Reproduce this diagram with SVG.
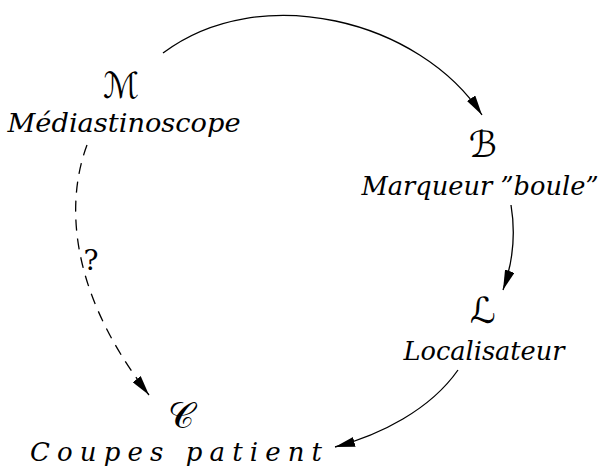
<svg xmlns="http://www.w3.org/2000/svg" width="604" height="473" viewBox="0 0 604 473">
<style>
.lbl{font-family:"DejaVu Serif","Liberation Serif",serif;font-style:italic;font-size:26px;fill:#000;text-anchor:middle}
.sym{font-family:"DejaVu Sans","DejaVu Serif",serif;font-size:36px;fill:#000;text-anchor:middle}
.q{font-family:"DejaVu Serif","Liberation Serif",serif;font-size:28px;fill:#000;text-anchor:middle}
.edge{fill:none;stroke:#000;stroke-width:1.3}
.dash{stroke-dasharray:11,8}
</style>
<defs>
<marker id="ah" viewBox="0 0 20 10" refX="20" refY="5" markerWidth="20" markerHeight="10" markerUnits="userSpaceOnUse" orient="auto">
<path d="M0,0 L20,5 L0,10 Z" fill="#000"/>
</marker>
</defs>
<g id="node-M">
<text class="sym" x="121" y="98" textLength="36" lengthAdjust="spacingAndGlyphs">ℳ</text>
<text class="lbl" x="124" y="132" textLength="233" lengthAdjust="spacingAndGlyphs">Médiastinoscope</text>
</g>
<g id="node-B">
<text class="sym" x="483" y="157">ℬ</text>
<text class="lbl" x="480" y="195" textLength="237" lengthAdjust="spacingAndGlyphs">Marqueur ”boule”</text>
</g>
<g id="node-L">
<text class="sym" x="483" y="323">ℒ</text>
<text class="lbl" x="484" y="360" textLength="161" lengthAdjust="spacingAndGlyphs">Localisateur</text>
</g>
<g id="node-C">
<text class="sym" x="181" y="428">𝒞</text>
<text class="lbl" x="176" y="461" textLength="292" lengthAdjust="spacing">Coupes patient</text>
</g>
<g id="connectors">
<path class="edge" d="M163,53 C260,-20 420,20 482,115" marker-end="url(#ah)"/>
<path class="edge" d="M511,205 C516,235 512,265 503,290" marker-end="url(#ah)"/>
<path class="edge" d="M458,370 C430,410 380,435 335,447" marker-end="url(#ah)"/>
<path class="edge dash" d="M87,145 C70,190 60,280 149,395" marker-end="url(#ah)"/>
<text class="q" x="91" y="270">?</text>
</g>
</svg>
